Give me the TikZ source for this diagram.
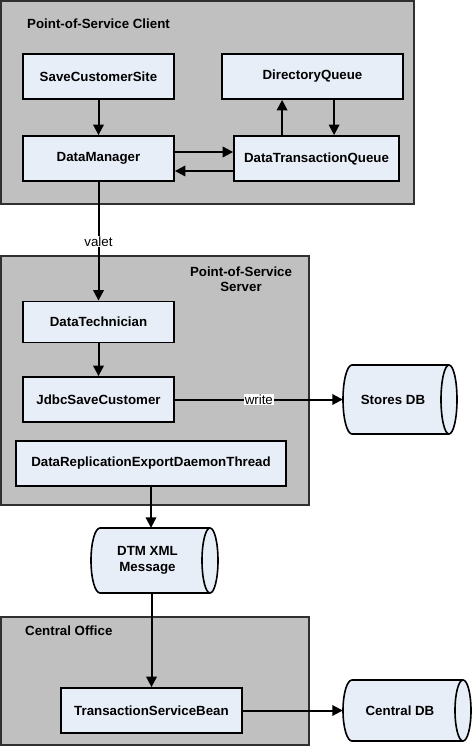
\documentclass[tikz,border=0pt]{standalone}
\usepackage{fontspec}
\setmainfont{Liberation Sans}
\usetikzlibrary{arrows.meta}
\definecolor{contgray}{HTML}{C0C0C0}
\definecolor{boxblue}{HTML}{E8EEF8}
\definecolor{contline}{HTML}{303030}
\tikzset{
  container/.style={draw=contline, fill=contgray, line width=2pt, inner sep=0pt},
  box/.style={draw=black, fill=boxblue, line width=1.8pt, inner sep=2pt,
    font=\bfseries\fontsize{13.3}{15.5}\selectfont},
  title/.style={font=\bfseries\fontsize{13.3}{15.5}\selectfont, inner sep=0pt},
  arr/.style={line width=2pt, -{Triangle[length=10.5pt,width=10.5pt]}},
  lbl/.style={fill=white, inner sep=0.8pt, font=\fontsize{13.3}{15.5}\selectfont},
  cylshape/.style={draw=black, fill=boxblue, line width=1.6pt},
  cylline/.style={draw=black, line width=1.6pt},
  cylarea/.style={draw=none, inner sep=0pt},
  dbtext/.style={align=center, inner sep=0pt, font=\bfseries\fontsize{13.3}{15.5}\selectfont}
}
\newcommand{\dbcyl}[6]{%
  \path[cylshape] ({#2+9},#3) -- ({#4-8},#3)
    arc[start angle=-90,end angle=90,x radius=8,y radius={(#5-#3)/2}]
    -- ({#2+9},#5)
    arc[start angle=90,end angle=270,x radius=9,y radius={(#5-#3)/2}] -- cycle;
  \draw[cylline] ({#4-8},#3)
    arc[start angle=-90,end angle=-270,x radius=8,y radius={(#5-#3)/2}];
  \node[cylarea, minimum width={#4pt-#2pt}, minimum height={#5pt-#3pt}]
    (#1) at ({(#2+#4)/2},{(#3+#5)/2}) {};
  \node[dbtext] (#1-label) at ({(#2+#4)/2-7},{(#3+#5)/2}) {#6};
}
\begin{document}
\begin{tikzpicture}[x=1pt,y=-1pt]
\useasboundingbox (0,0) rectangle (472,746);
\fill[white] (0,0) rectangle (472,746);

% containers
\node[container, minimum width=413pt, minimum height=203pt] (client) at (207.5,102.5) {};
\node[container, minimum width=308pt, minimum height=249pt] (server) at (155,380.5) {};
\node[container, minimum width=308pt, minimum height=128pt] (central) at (155,681) {};

\node[title, anchor=west] (clientT) at (27,23.5) {Point-of-Service Client};
\node[title, align=center] (serverT) at (241,279) {Point-of-Service\\Server};
\node[title, anchor=west] (centralT) at (25,631) {Central Office};

% boxes
\node[box, minimum width=151pt, minimum height=45pt] (scs) at (98.5,76.5) {SaveCustomerSite};
\node[box, minimum width=181pt, minimum height=45pt] (dq) at (312.5,76.5) {DirectoryQueue};
\node[box, minimum width=151pt, minimum height=45pt] (dm) at (98.5,158.5) {DataManager};
\node[box, minimum width=165pt, minimum height=45pt] (dtq) at (316.5,158.5) {DataTransactionQueue};
\node[box, minimum width=151pt, minimum height=41pt] (dt) at (98.5,322) {DataTechnician};
\node[box, minimum width=151pt, minimum height=45pt] (jdbc) at (98.5,399.5) {JdbcSaveCustomer};
\node[box, minimum width=270pt, minimum height=45pt] (dre) at (151,463.5) {DataReplicationExportDaemonThread};
\node[box, minimum width=181pt, minimum height=45pt] (tsb) at (151.5,710.5) {TransactionServiceBean};

% databases
\dbcyl{stores}{343}{365}{457}{434}{Stores DB}
\dbcyl{dtm}{91}{528}{218}{593}{DTM XML\\Message}
\dbcyl{cdb}{343}{680}{471}{741}{Central DB}

% connectors
\draw[arr] (scs) -- (dm);
\draw[arr] ([yshift=6.5pt]dm.east) -- ([yshift=6.5pt]dtq.west);
\draw[arr] ([yshift=-12.5pt]dtq.west) -- ([yshift=-12.5pt]dm.east);
\draw[arr] ([xshift=49pt]dtq.north west) -- ([xshift=61pt]dq.south west);
\draw[arr] ([xshift=113pt]dq.south west) -- ([xshift=101pt]dtq.north west);
\draw[arr] (dm) -- node[lbl] {valet} (dt);
\draw[arr] (dt) -- (jdbc);
\draw[arr] (jdbc.east) -- node[lbl] {write} (stores.west);
\draw[arr] (dre.south) -- (dre.south |- dtm.north);
\draw[arr] (dtm.south -| tsb.north) -- (tsb.north);
\draw[arr] (tsb.east) -- (cdb.west);
\end{tikzpicture}
\end{document}
